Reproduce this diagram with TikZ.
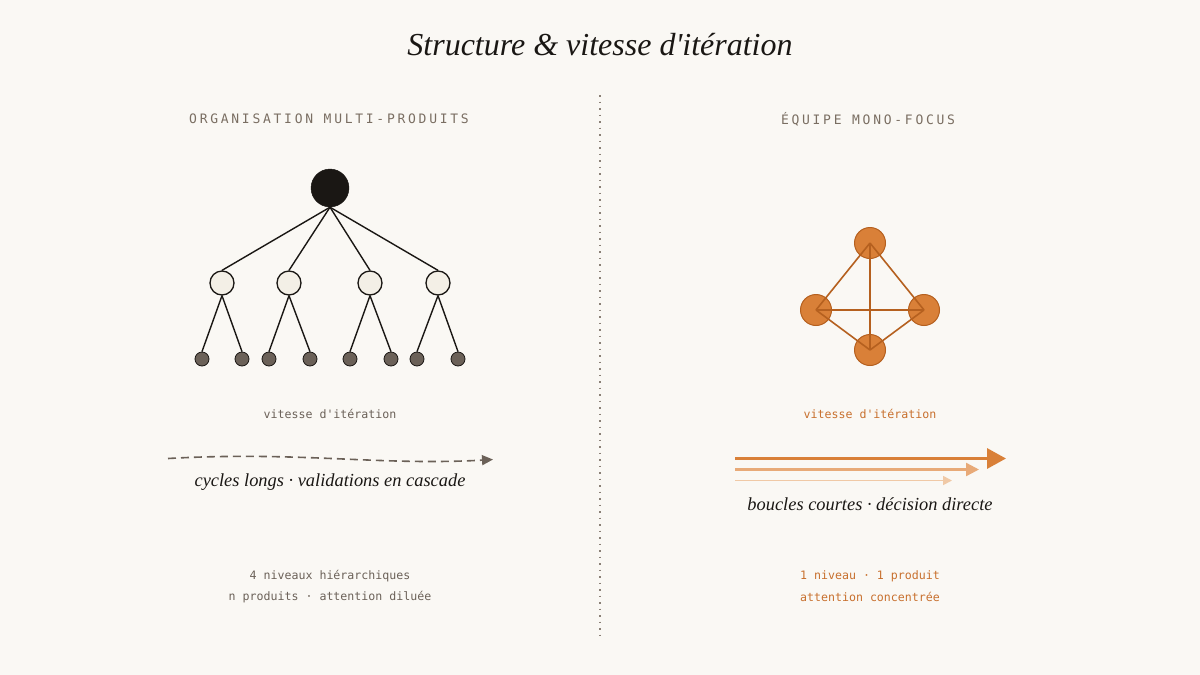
\documentclass[tikz,border=0pt]{standalone}
\usepackage{fontspec}
\usetikzlibrary{arrows.meta}
\setmainfont{Liberation Serif}[Ligatures=TeXOff]
\newfontfamily\monofont{DejaVu Sans Mono}
\newfontfamily\spacedmono{DejaVu Sans Mono}[LetterSpace=21]
\definecolor{bg}{HTML}{FAF8F4}
\definecolor{ink}{HTML}{1A1714}
\definecolor{graybrown}{HTML}{6B6158}
\definecolor{headcol}{HTML}{7A6E62}
\definecolor{midfill}{HTML}{F3EFE6}
\definecolor{orangefill}{HTML}{D98038}
\definecolor{orangeline}{HTML}{B5601F}
\definecolor{orangetext}{HTML}{C8702E}
\definecolor{lightorange}{HTML}{E8AA78}
\definecolor{paleorange}{HTML}{F0C9A6}
\definecolor{divider}{HTML}{8A8076}
\tikzset{
  rootnode/.style={circle,fill=ink,draw=ink,minimum size=38pt,inner sep=0pt},
  midnode/.style={circle,fill=midfill,draw=ink,line width=1.3pt,minimum size=24pt,inner sep=0pt},
  leafnode/.style={circle,fill=graybrown,draw=ink,line width=0.8pt,minimum size=14pt,inner sep=0pt},
  treeline/.style={draw=ink,line width=1.4pt},
  onode/.style={circle,fill=orangefill,draw=orangeline,line width=1pt,minimum size=31pt,inner sep=0pt},
  oline/.style={draw=orangeline,line width=1.6pt},
  header/.style={font=\spacedmono\fontsize{13}{15}\selectfont,text=headcol},
  monotext/.style={font=\monofont\fontsize{11.6}{14}\selectfont},
  ittext/.style={font=\itshape\fontsize{18.4}{22}\selectfont,text=ink},
}
\begin{document}
\begin{tikzpicture}[x=1pt,y=-1pt]
\fill[bg] (0,0) rectangle (1200,675);
\useasboundingbox (0,0) rectangle (1200,675);

\node[font=\itshape\fontsize{32}{36}\selectfont,text=ink] (title) at (600,45) {Structure \& vitesse d'itération};

\coordinate (dtop) at (600,95);
\coordinate (dbot) at (600,635);
\draw[divider,line width=1.5pt,dash pattern=on 1.5pt off 5pt] (dtop) -- (dbot);

\node[header] (lh) at (329,119) {ORGANISATION MULTI-PRODUITS};
\node[header] (rh) at (868,119) {ÉQUIPE MONO-FOCUS};

% tree
\node[rootnode] (root) at (330,188) {};
\node[midnode] (m1) at (222,283) {};
\node[midnode] (m2) at (289,283) {};
\node[midnode] (m3) at (370,283) {};
\node[midnode] (m4) at (438,283) {};
\foreach \i/\x in {1/202,2/242,3/269,4/310,5/350,6/391,7/417,8/458}{
  \node[leafnode] (l\i) at (\x,359) {};
}
\foreach \m in {1,2,3,4}{ \draw[treeline] (root.south) -- (m\m.north); }
\draw[treeline] (m1.south) -- (l1.north);
\draw[treeline] (m1.south) -- (l2.north);
\draw[treeline] (m2.south) -- (l3.north);
\draw[treeline] (m2.south) -- (l4.north);
\draw[treeline] (m3.south) -- (l5.north);
\draw[treeline] (m3.south) -- (l6.north);
\draw[treeline] (m4.south) -- (l7.north);
\draw[treeline] (m4.south) -- (l8.north);

% orange graph
\node[onode] (ot) at (870,243) {};
\node[onode] (ol) at (816,310) {};
\node[onode] (or) at (924,310) {};
\node[onode] (ob) at (870,350) {};
\draw[oline] (ot.center) -- (ol.center);
\draw[oline] (ot.center) -- (or.center);
\draw[oline] (ot.center) -- (ob.center);
\draw[oline] (ol.center) -- (or.center);
\draw[oline] (ol.center) -- (ob.center);
\draw[oline] (or.center) -- (ob.center);

% speed labels
\node[monotext,text=graybrown] (lv) at (330,414) {vitesse d'itération};
\node[monotext,text=orangetext] (rv) at (870,414) {vitesse d'itération};

% left dashed arrow
\coordinate (la) at (168,458.5);
\coordinate (lb) at (493,459.5);
\draw[graybrown,line width=1.6pt,dash pattern=on 8pt off 5pt,-{Triangle[length=11pt,width=10pt]}]
  (la) .. controls (300,451) and (380,466) .. (lb);
\node[ittext] (lt) at (330,482) {cycles longs · validations en cascade};

% right arrows
\coordinate (r1a) at (735,458.5);
\coordinate (r1b) at (1006,458.5);
\coordinate (r2a) at (735,469.5);
\coordinate (r2b) at (979,469.5);
\coordinate (r3a) at (735,480.5);
\coordinate (r3b) at (952,480.5);
\draw[orangefill,line width=3.2pt,-{Triangle[length=19pt,width=20pt]}] (r1a) -- (r1b);
\draw[lightorange,line width=2.4pt,-{Triangle[length=13pt,width=13pt]}] (r2a) -- (r2b);
\draw[paleorange,line width=1.7pt,-{Triangle[length=9pt,width=9pt]}] (r3a) -- (r3b);
\node[ittext] (rt) at (870,504) {boucles courtes · décision directe};

% bottom notes
\node[monotext,text=graybrown] (ln1) at (330,576) {4 niveaux hiérarchiques};
\node[monotext,text=graybrown] (ln2) at (330,597) {n produits · attention diluée};
\node[monotext,text=orangetext] (rn1) at (870,576) {1 niveau · 1 produit};
\node[monotext,text=orangetext] (rn2) at (870,597) {attention concentrée};
\end{tikzpicture}
\end{document}
